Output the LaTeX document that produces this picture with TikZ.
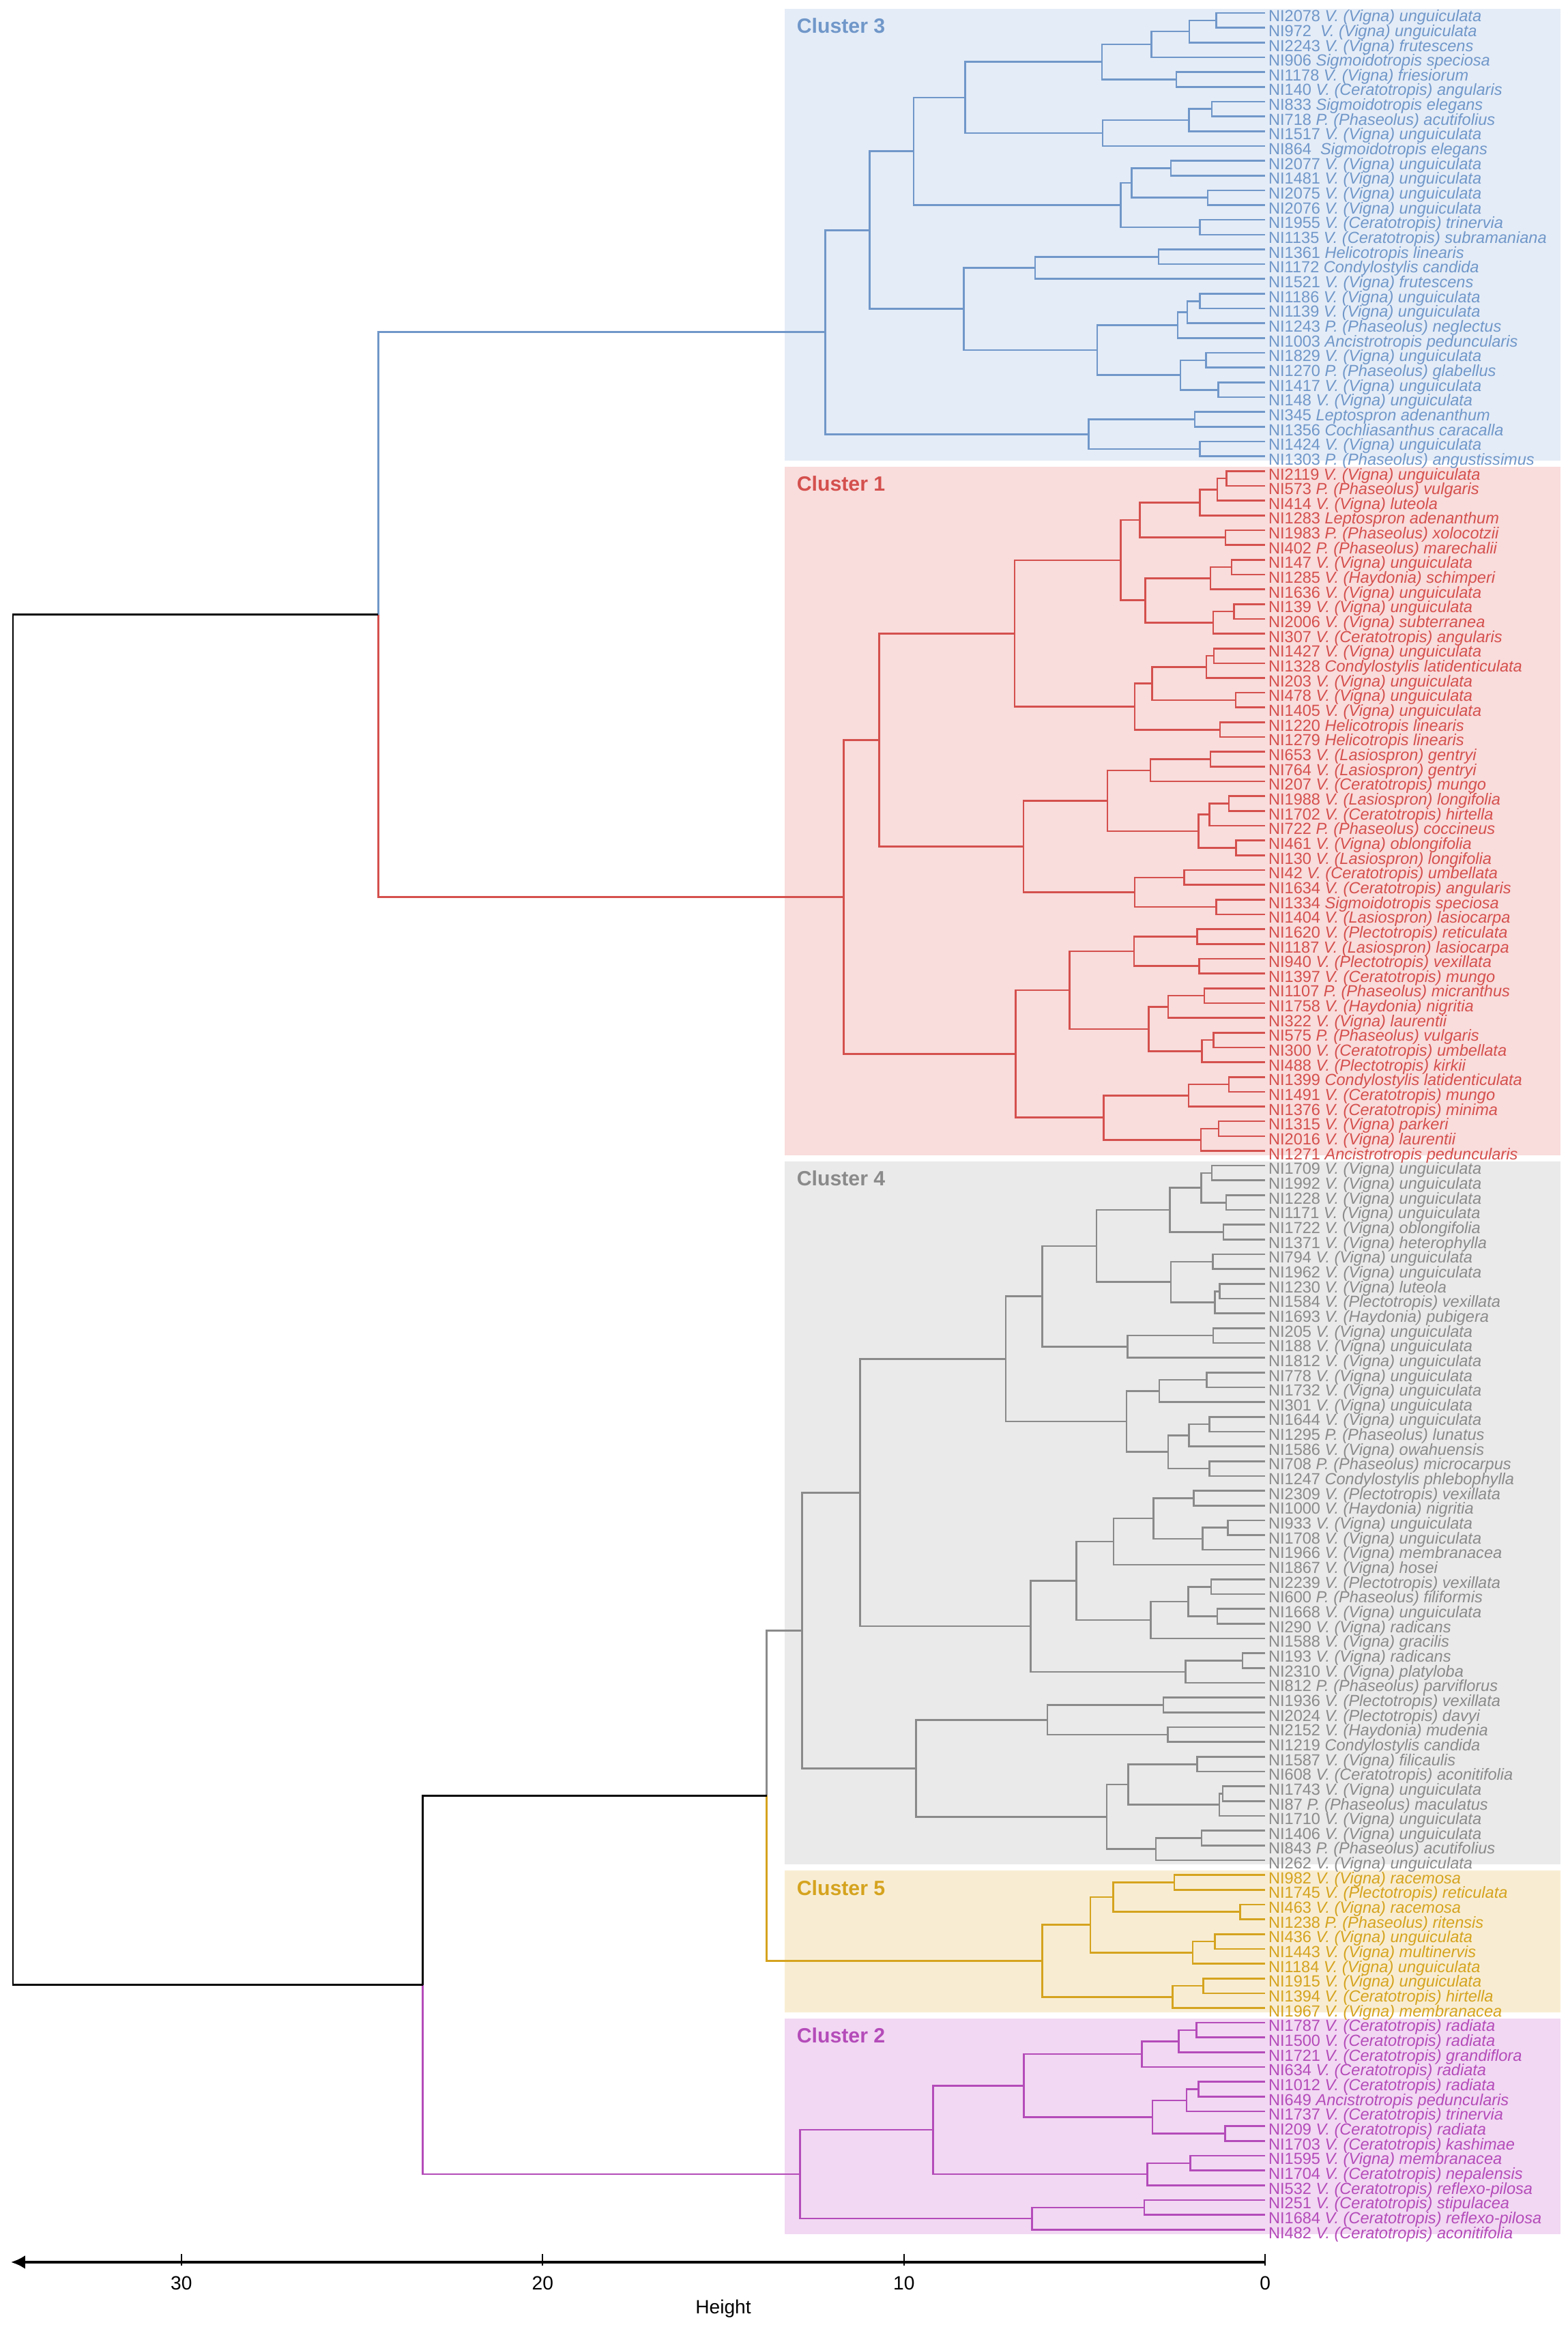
\documentclass[tikz,border=0pt]{standalone}
\usepackage{fontspec}
\setmainfont{Liberation Sans}
\usetikzlibrary{calc,arrows.meta}

\definecolor{c3col}{HTML}{7097C9}
\definecolor{c3bg}{HTML}{E4ECF7}
\definecolor{c1col}{HTML}{D4504D}
\definecolor{c1bg}{HTML}{F9DCDC}
\definecolor{c4col}{HTML}{8A8A8A}
\definecolor{c4bg}{HTML}{EAEAEA}
\definecolor{c5col}{HTML}{D5A31E}
\definecolor{c5bg}{HTML}{F8EDD3}
\definecolor{c2col}{HTML}{B44BB9}
\definecolor{c2bg}{HTML}{F2D8F3}

\tikzset{
  leaf/.style={anchor=base west, inner xsep=0.09cm, inner ysep=0pt, yshift=-0.254cm,
    font=\fontsize{13.4}{15}\selectfont},
  clab/.style={anchor=base west, inner sep=0pt, font=\fontsize{17.2}{20}\selectfont\bfseries},
  branch/.style={line width=1.5pt},
  axisline/.style={line width=2.2pt},
  tickmark/.style={line width=1.3pt},
  ticklab/.style={anchor=base, inner sep=0pt, font=\fontsize{16}{18}\selectfont},
}

% one merge of the dendrogram: name, upper child, lower child, height
\newcommand{\dmerge}[4]{%
  \coordinate (tmp) at ($(#2)!0.5!(#3)$);
  \coordinate (hx) at (#4,0);
  \coordinate (#1) at (tmp -| hx);
  \draw[branch] (#2) -| (#1) |- (#3);
}

\begin{document}
\begin{tikzpicture}[x=-1.059cm, y=-0.4331cm]
    \useasboundingbox (35.02,0.1226) rectangle (-8.376,157.59);
    % cluster boxes
    \fill[c3bg] (13.30,0.71) rectangle (-8.17,31.29);
    \fill[c1bg] (13.30,31.71) rectangle (-8.17,78.29);
    \fill[c4bg] (13.30,78.71) rectangle (-8.17,126.29);
    \fill[c5bg] (13.30,126.71) rectangle (-8.17,136.29);
    \fill[c2bg] (13.30,136.71) rectangle (-8.17,151.32);
    \node[clab, c3col] (lab3) at (12.97,2.36) {Cluster 3};
    \node[clab, c1col] (lab1) at (12.97,33.36) {Cluster 1};
    \node[clab, c4col] (lab4) at (12.97,80.36) {Cluster 4};
    \node[clab, c5col] (lab5) at (12.97,128.36) {Cluster 5};
    \node[clab, c2col] (lab2) at (12.97,138.36) {Cluster 2};

    % leaves of cluster 3
    \foreach \lbl [count=\i from 1] in {
      NI2078 \textit{V. (Vigna) unguiculata},
      NI972\ \ \textit{V. (Vigna) unguiculata},
      NI2243 \textit{V. (Vigna) frutescens},
      NI906 \textit{Sigmoidotropis speciosa},
      NI1178 \textit{V. (Vigna) friesiorum},
      NI140 \textit{V. (Ceratotropis) angularis},
      NI833 \textit{Sigmoidotropis elegans},
      NI718 \textit{P. (Phaseolus) acutifolius},
      NI1517 \textit{V. (Vigna) unguiculata},
      NI864\ \ \textit{Sigmoidotropis elegans},
      NI2077 \textit{V. (Vigna) unguiculata},
      NI1481 \textit{V. (Vigna) unguiculata},
      NI2075 \textit{V. (Vigna) unguiculata},
      NI2076 \textit{V. (Vigna) unguiculata},
      NI1955 \textit{V. (Ceratotropis) trinervia},
      NI1135 \textit{V. (Ceratotropis) subramaniana},
      NI1361 \textit{Helicotropis linearis},
      NI1172 \textit{Condylostylis candida},
      NI1521 \textit{V. (Vigna) frutescens},
      NI1186 \textit{V. (Vigna) unguiculata},
      NI1139 \textit{V. (Vigna) unguiculata},
      NI1243 \textit{P. (Phaseolus) neglectus},
      NI1003 \textit{Ancistrotropis peduncularis},
      NI1829 \textit{V. (Vigna) unguiculata},
      NI1270 \textit{P. (Phaseolus) glabellus},
      NI1417 \textit{V. (Vigna) unguiculata},
      NI148 \textit{V. (Vigna) unguiculata},
      NI345 \textit{Leptospron adenanthum},
      NI1356 \textit{Cochliasanthus caracalla},
      NI1424 \textit{V. (Vigna) unguiculata},
      NI1303 \textit{P. (Phaseolus) angustissimus}} {
      \coordinate (l\i) at (0,\i);
      \node[leaf, c3col] (n\i) at (l\i) {\lbl};
    }
    % leaves of cluster 1
    \foreach \lbl [count=\i from 32] in {
      NI2119 \textit{V. (Vigna) unguiculata},
      NI573 \textit{P. (Phaseolus) vulgaris},
      NI414 \textit{V. (Vigna) luteola},
      NI1283 \textit{Leptospron adenanthum},
      NI1983 \textit{P. (Phaseolus) xolocotzii},
      NI402 \textit{P. (Phaseolus) marechalii},
      NI147 \textit{V. (Vigna) unguiculata},
      NI1285 \textit{V. (Haydonia) schimperi},
      NI1636 \textit{V. (Vigna) unguiculata},
      NI139 \textit{V. (Vigna) unguiculata},
      NI2006 \textit{V. (Vigna) subterranea},
      NI307 \textit{V. (Ceratotropis) angularis},
      NI1427 \textit{V. (Vigna) unguiculata},
      NI1328 \textit{Condylostylis latidenticulata},
      NI203 \textit{V. (Vigna) unguiculata},
      NI478 \textit{V. (Vigna) unguiculata},
      NI1405 \textit{V. (Vigna) unguiculata},
      NI1220 \textit{Helicotropis linearis},
      NI1279 \textit{Helicotropis linearis},
      NI653 \textit{V. (Lasiospron) gentryi},
      NI764 \textit{V. (Lasiospron) gentryi},
      NI207 \textit{V. (Ceratotropis) mungo},
      NI1988 \textit{V. (Lasiospron) longifolia},
      NI1702 \textit{V. (Ceratotropis) hirtella},
      NI722 \textit{P. (Phaseolus) coccineus},
      NI461 \textit{V. (Vigna) oblongifolia},
      NI130 \textit{V. (Lasiospron) longifolia},
      NI42 \textit{V. (Ceratotropis) umbellata},
      NI1634 \textit{V. (Ceratotropis) angularis},
      NI1334 \textit{Sigmoidotropis speciosa},
      NI1404 \textit{V. (Lasiospron) lasiocarpa},
      NI1620 \textit{V. (Plectotropis) reticulata},
      NI1187 \textit{V. (Lasiospron) lasiocarpa},
      NI940 \textit{V. (Plectotropis) vexillata},
      NI1397 \textit{V. (Ceratotropis) mungo},
      NI1107 \textit{P. (Phaseolus) micranthus},
      NI1758 \textit{V. (Haydonia) nigritia},
      NI322 \textit{V. (Vigna) laurentii},
      NI575 \textit{P. (Phaseolus) vulgaris},
      NI300 \textit{V. (Ceratotropis) umbellata},
      NI488 \textit{V. (Plectotropis) kirkii},
      NI1399 \textit{Condylostylis latidenticulata},
      NI1491 \textit{V. (Ceratotropis) mungo},
      NI1376 \textit{V. (Ceratotropis) minima},
      NI1315 \textit{V. (Vigna) parkeri},
      NI2016 \textit{V. (Vigna) laurentii},
      NI1271 \textit{Ancistrotropis peduncularis}} {
      \coordinate (l\i) at (0,\i);
      \node[leaf, c1col] (n\i) at (l\i) {\lbl};
    }
    % leaves of cluster 4
    \foreach \lbl [count=\i from 79] in {
      NI1709 \textit{V. (Vigna) unguiculata},
      NI1992 \textit{V. (Vigna) unguiculata},
      NI1228 \textit{V. (Vigna) unguiculata},
      NI1171 \textit{V. (Vigna) unguiculata},
      NI1722 \textit{V. (Vigna) oblongifolia},
      NI1371 \textit{V. (Vigna) heterophylla},
      NI794 \textit{V. (Vigna) unguiculata},
      NI1962 \textit{V. (Vigna) unguiculata},
      NI1230 \textit{V. (Vigna) luteola},
      NI1584 \textit{V. (Plectotropis) vexillata},
      NI1693 \textit{V. (Haydonia) pubigera},
      NI205 \textit{V. (Vigna) unguiculata},
      NI188 \textit{V. (Vigna) unguiculata},
      NI1812 \textit{V. (Vigna) unguiculata},
      NI778 \textit{V. (Vigna) unguiculata},
      NI1732 \textit{V. (Vigna) unguiculata},
      NI301 \textit{V. (Vigna) unguiculata},
      NI1644 \textit{V. (Vigna) unguiculata},
      NI1295 \textit{P. (Phaseolus) lunatus},
      NI1586 \textit{V. (Vigna) owahuensis},
      NI708 \textit{P. (Phaseolus) microcarpus},
      NI1247 \textit{Condylostylis phlebophylla},
      NI2309 \textit{V. (Plectotropis) vexillata},
      NI1000 \textit{V. (Haydonia) nigritia},
      NI933 \textit{V. (Vigna) unguiculata},
      NI1708 \textit{V. (Vigna) unguiculata},
      NI1966 \textit{V. (Vigna) membranacea},
      NI1867 \textit{V. (Vigna) hosei},
      NI2239 \textit{V. (Plectotropis) vexillata},
      NI600 \textit{P. (Phaseolus) filiformis},
      NI1668 \textit{V. (Vigna) unguiculata},
      NI290 \textit{V. (Vigna) radicans},
      NI1588 \textit{V. (Vigna) gracilis},
      NI193 \textit{V. (Vigna) radicans},
      NI2310 \textit{V. (Vigna) platyloba},
      NI812 \textit{P. (Phaseolus) parviflorus},
      NI1936 \textit{V. (Plectotropis) vexillata},
      NI2024 \textit{V. (Plectotropis) davyi},
      NI2152 \textit{V. (Haydonia) mudenia},
      NI1219 \textit{Condylostylis candida},
      NI1587 \textit{V. (Vigna) filicaulis},
      NI608 \textit{V. (Ceratotropis) aconitifolia},
      NI1743 \textit{V. (Vigna) unguiculata},
      NI87 \textit{P. (Phaseolus) maculatus},
      NI1710 \textit{V. (Vigna) unguiculata},
      NI1406 \textit{V. (Vigna) unguiculata},
      NI843 \textit{P. (Phaseolus) acutifolius},
      NI262 \textit{V. (Vigna) unguiculata}} {
      \coordinate (l\i) at (0,\i);
      \node[leaf, c4col] (n\i) at (l\i) {\lbl};
    }
    % leaves of cluster 5
    \foreach \lbl [count=\i from 127] in {
      NI982 \textit{V. (Vigna) racemosa},
      NI1745 \textit{V. (Plectotropis) reticulata},
      NI463 \textit{V. (Vigna) racemosa},
      NI1238 \textit{P. (Phaseolus) ritensis},
      NI436 \textit{V. (Vigna) unguiculata},
      NI1443 \textit{V. (Vigna) multinervis},
      NI1184 \textit{V. (Vigna) unguiculata},
      NI1915 \textit{V. (Vigna) unguiculata},
      NI1394 \textit{V. (Ceratotropis) hirtella},
      NI1967 \textit{V. (Vigna) membranacea}} {
      \coordinate (l\i) at (0,\i);
      \node[leaf, c5col] (n\i) at (l\i) {\lbl};
    }
    % leaves of cluster 2
    \foreach \lbl [count=\i from 137] in {
      NI1787 \textit{V. (Ceratotropis) radiata},
      NI1500 \textit{V. (Ceratotropis) radiata},
      NI1721 \textit{V. (Ceratotropis) grandiflora},
      NI634 \textit{V. (Ceratotropis) radiata},
      NI1012 \textit{V. (Ceratotropis) radiata},
      NI649 \textit{Ancistrotropis peduncularis},
      NI1737 \textit{V. (Ceratotropis) trinervia},
      NI209 \textit{V. (Ceratotropis) radiata},
      NI1703 \textit{V. (Ceratotropis) kashimae},
      NI1595 \textit{V. (Vigna) membranacea},
      NI1704 \textit{V. (Ceratotropis) nepalensis},
      NI532 \textit{V. (Ceratotropis) reflexo-pilosa},
      NI251 \textit{V. (Ceratotropis) stipulacea},
      NI1684 \textit{V. (Ceratotropis) reflexo-pilosa},
      NI482 \textit{V. (Ceratotropis) aconitifolia}} {
      \coordinate (l\i) at (0,\i);
      \node[leaf, c2col] (n\i) at (l\i) {\lbl};
    }

    % tree of cluster 3
    \begin{scope}[c3col]
    \dmerge{u1}{l1}{l2}{1.36}
    \dmerge{u2}{u1}{l3}{2.10}
    \dmerge{u3}{u2}{l4}{3.15}
    \dmerge{u4}{l5}{l6}{2.46}
    \dmerge{u5}{u3}{u4}{4.52}
    \dmerge{u6}{l7}{l8}{1.48}
    \dmerge{u7}{u6}{l9}{2.11}
    \dmerge{u8}{u7}{l10}{4.50}
    \dmerge{u9}{u5}{u8}{8.31}
    \dmerge{u10}{l11}{l12}{2.61}
    \dmerge{u11}{l13}{l14}{1.59}
    \dmerge{u12}{u10}{u11}{3.70}
    \dmerge{u13}{l15}{l16}{1.81}
    \dmerge{u14}{u12}{u13}{4.00}
    \dmerge{u15}{u9}{u14}{9.73}
    \dmerge{u16}{l17}{l18}{2.95}
    \dmerge{u17}{u16}{l19}{6.37}
    \dmerge{u18}{l20}{l21}{1.81}
    \dmerge{u19}{u18}{l22}{2.16}
    \dmerge{u20}{u19}{l23}{2.42}
    \dmerge{u21}{l24}{l25}{1.64}
    \dmerge{u22}{l26}{l27}{1.30}
    \dmerge{u23}{u21}{u22}{2.35}
    \dmerge{u24}{u20}{u23}{4.65}
    \dmerge{u25}{u17}{u24}{8.34}
    \dmerge{u26}{u15}{u25}{10.95}
    \dmerge{u27}{l28}{l29}{1.95}
    \dmerge{u28}{l30}{l31}{1.81}
    \dmerge{u29}{u27}{u28}{4.89}
    \dmerge{u30}{u26}{u29}{12.18}
    \end{scope}

    % tree of cluster 1
    \begin{scope}[c1col]
    \dmerge{r1}{l32}{l33}{1.07}
    \dmerge{r2}{r1}{l34}{1.33}
    \dmerge{r3}{r2}{l35}{1.81}
    \dmerge{r4}{l36}{l37}{1.10}
    \dmerge{r5}{r3}{r4}{3.47}
    \dmerge{r6}{l38}{l39}{0.93}
    \dmerge{r7}{r6}{l40}{1.52}
    \dmerge{r8}{l41}{l42}{0.86}
    \dmerge{r9}{r8}{l43}{1.44}
    \dmerge{r10}{r7}{r9}{3.32}
    \dmerge{r11}{r5}{r10}{4.00}
    \dmerge{r12}{l44}{l45}{1.42}
    \dmerge{r13}{r12}{l46}{1.63}
    \dmerge{r14}{l47}{l48}{0.82}
    \dmerge{r15}{r13}{r14}{3.13}
    \dmerge{r16}{l49}{l50}{1.25}
    \dmerge{r17}{r15}{r16}{3.61}
    \dmerge{r18}{r11}{r17}{6.94}
    \dmerge{r19}{l51}{l52}{1.52}
    \dmerge{r20}{r19}{l53}{3.18}
    \dmerge{r21}{l54}{l55}{1.01}
    \dmerge{r22}{r21}{l56}{1.55}
    \dmerge{r23}{l57}{l58}{0.81}
    \dmerge{r24}{r22}{r23}{1.85}
    \dmerge{r25}{r20}{r24}{4.37}
    \dmerge{r26}{l59}{l60}{2.24}
    \dmerge{r27}{l61}{l62}{1.36}
    \dmerge{r28}{r26}{r27}{3.61}
    \dmerge{r29}{r25}{r28}{6.69}
    \dmerge{r30}{r18}{r29}{10.69}
    \dmerge{r31}{l63}{l64}{1.88}
    \dmerge{r32}{l65}{l66}{1.83}
    \dmerge{r33}{r31}{r32}{3.63}
    \dmerge{r34}{l67}{l68}{1.69}
    \dmerge{r35}{r34}{l69}{2.69}
    \dmerge{r36}{l70}{l71}{1.43}
    \dmerge{r37}{r36}{l72}{1.75}
    \dmerge{r38}{r35}{r37}{3.22}
    \dmerge{r39}{r33}{r38}{5.42}
    \dmerge{r40}{l73}{l74}{1.01}
    \dmerge{r41}{r40}{l75}{2.12}
    \dmerge{r42}{l76}{l77}{1.29}
    \dmerge{r43}{r42}{l78}{1.78}
    \dmerge{r44}{r41}{r43}{4.47}
    \dmerge{r45}{r39}{r44}{6.91}
    \dmerge{r46}{r30}{r45}{11.67}
    \end{scope}

    % tree of cluster 4
    \begin{scope}[c4col]
    \dmerge{g1}{l79}{l80}{1.48}
    \dmerge{g2}{l81}{l82}{1.08}
    \dmerge{g3}{g1}{g2}{1.77}
    \dmerge{g4}{l83}{l84}{1.16}
    \dmerge{g5}{g3}{g4}{2.64}
    \dmerge{g6}{l85}{l86}{1.45}
    \dmerge{g7}{l87}{l88}{1.26}
    \dmerge{g8}{g7}{l89}{1.39}
    \dmerge{g9}{g6}{g8}{2.61}
    \dmerge{g10}{g5}{g9}{4.67}
    \dmerge{g11}{l90}{l91}{1.44}
    \dmerge{g12}{g11}{l92}{3.81}
    \dmerge{g13}{g10}{g12}{6.17}
    \dmerge{g14}{l93}{l94}{1.62}
    \dmerge{g15}{g14}{l95}{2.93}
    \dmerge{g16}{l96}{l97}{1.55}
    \dmerge{g17}{g16}{l98}{2.11}
    \dmerge{g18}{l99}{l100}{1.55}
    \dmerge{g19}{g17}{g18}{2.69}
    \dmerge{g20}{g15}{g19}{3.84}
    \dmerge{g21}{g13}{g20}{7.18}
    \dmerge{g22}{l101}{l102}{1.98}
    \dmerge{g23}{l103}{l104}{1.03}
    \dmerge{g24}{g23}{l105}{1.73}
    \dmerge{g25}{g22}{g24}{3.09}
    \dmerge{g26}{g25}{l106}{4.20}
    \dmerge{g27}{l107}{l108}{1.50}
    \dmerge{g28}{l109}{l110}{1.33}
    \dmerge{g29}{g27}{g28}{2.13}
    \dmerge{g30}{g29}{l111}{3.17}
    \dmerge{g31}{g26}{g30}{5.23}
    \dmerge{g32}{l112}{l113}{0.63}
    \dmerge{g33}{g32}{l114}{2.21}
    \dmerge{g34}{g31}{g33}{6.49}
    \dmerge{g35}{g21}{g34}{11.22}
    \dmerge{g36}{l115}{l116}{2.82}
    \dmerge{g37}{l117}{l118}{2.70}
    \dmerge{g38}{g36}{g37}{6.03}
    \dmerge{g39}{l119}{l120}{1.88}
    \dmerge{g40}{l121}{l122}{1.18}
    \dmerge{g41}{g40}{l123}{1.27}
    \dmerge{g42}{g39}{g41}{3.79}
    \dmerge{g43}{l124}{l125}{1.76}
    \dmerge{g44}{g43}{l126}{3.03}
    \dmerge{g45}{g42}{g44}{4.39}
    \dmerge{g46}{g38}{g45}{9.66}
    \dmerge{g47}{g35}{g46}{12.82}
    \end{scope}

    % tree of cluster 5
    \begin{scope}[c5col]
    \dmerge{y1}{l127}{l128}{2.52}
    \dmerge{y2}{l129}{l130}{0.69}
    \dmerge{y3}{y1}{y2}{4.21}
    \dmerge{y4}{l131}{l132}{1.39}
    \dmerge{y5}{y4}{l133}{2.01}
    \dmerge{y6}{y3}{y5}{4.84}
    \dmerge{y7}{l134}{l135}{1.71}
    \dmerge{y8}{y7}{l136}{2.57}
    \dmerge{y9}{y6}{y8}{6.17}
    \end{scope}

    % tree of cluster 2
    \begin{scope}[c2col]
    \dmerge{m1}{l137}{l138}{1.90}
    \dmerge{m2}{m1}{l139}{2.39}
    \dmerge{m3}{m2}{l140}{3.41}
    \dmerge{m4}{l141}{l142}{1.85}
    \dmerge{m5}{m4}{l143}{2.18}
    \dmerge{m6}{l144}{l145}{1.11}
    \dmerge{m7}{m5}{m6}{3.12}
    \dmerge{m8}{m3}{m7}{6.68}
    \dmerge{m9}{l146}{l147}{2.07}
    \dmerge{m10}{m9}{l148}{3.26}
    \dmerge{m11}{m8}{m10}{9.19}
    \dmerge{m12}{l149}{l150}{3.35}
    \dmerge{m13}{m12}{l151}{6.45}
    \dmerge{m14}{m11}{m13}{12.88}
    \end{scope}

    % join cluster 3 and cluster 1
    \coordinate (tmp) at ($(u30)!0.5!(r46)$);
    \coordinate (hx) at (24.55,0);
    \coordinate (k31) at (tmp -| hx);
    \draw[branch, c3col] (u30) -| (k31);
    \draw[branch, c1col] (k31) |- (r46);
    % join cluster 4 and cluster 5
    \coordinate (tmp) at ($(g47)!0.5!(y9)$);
    \coordinate (hx) at (13.80,0);
    \coordinate (k45) at (tmp -| hx);
    \draw[branch, c4col] (g47) -| (k45);
    \draw[branch, c5col] (k45) |- (y9);
    % join them with cluster 2
    \coordinate (tmp) at ($(k45)!0.5!(m14)$);
    \coordinate (hx) at (23.32,0);
    \coordinate (k452) at (tmp -| hx);
    \draw[branch, black] (k45) -| (k452);
    \draw[branch, c2col] (k452) |- (m14);
    % root
    \dmerge{root}{k31}{k452}{34.66}

    % height axis
    \coordinate (ax0) at (0,153.2);
    \coordinate (ax1) at (34.72,153.2);
    \draw[axisline, -{Latex[length=0.42cm,width=0.4cm]}] (ax0) -- (ax1);
    \foreach \h in {0,10,20,30} {
      \draw[tickmark] (\h,152.65) -- (\h,153.45);
      \node[ticklab] (tick\h) at (\h,155.06) {\h};
    }
    \node[ticklab] (ylab) at (15.0,156.67) {Height};
\end{tikzpicture}
\end{document}
